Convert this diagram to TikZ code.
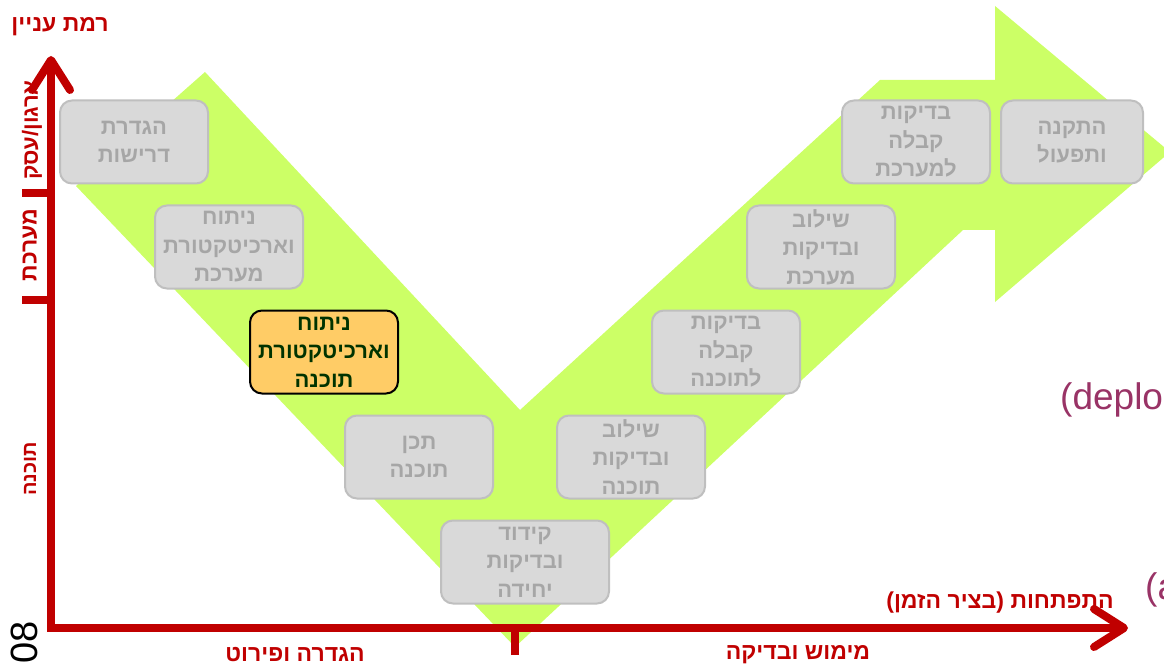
\documentclass[tikz,border=0pt]{standalone}
\usepackage{fontspec}
\setmainfont{Liberation Sans}
\newfontfamily\hebfont[Script=Hebrew]{Liberation Sans}
\TeXXeTstate=1
\usetikzlibrary{arrows.meta,positioning}

\definecolor{vgreen}{HTML}{CCFF66}
\definecolor{boxgray}{HTML}{D9D9D9}
\definecolor{boxline}{HTML}{BFBFBF}
\definecolor{boxtext}{HTML}{A6A6A6}
\definecolor{hilite}{HTML}{FFCC66}
\definecolor{hitext}{HTML}{003300}
\definecolor{axisred}{HTML}{C00000}
\definecolor{cutpurple}{HTML}{993366}

\newcommand{\heb}[1]{{\hebfont\beginR #1\endR}}

\begin{document}
\begin{tikzpicture}[x=1pt,y=-1pt,node distance=105pt and 95pt,on grid,
                    >={Straight Barb[length=30pt,width=38pt,round]},
                    font=\hebfont\bfseries]

  \tikzstyle{phase}=[rectangle,rounded corners=12pt,draw=boxline,line width=2pt,
                     fill=boxgray,text=boxtext,align=center,inner sep=0pt,
                     minimum width=148pt,minimum height=83pt,
                     font=\hebfont\bfseries\fontsize{22}{28.5}\selectfont]
  \tikzstyle{current}=[phase,fill=hilite,draw=black,text=hitext]
  \tikzstyle{axis}=[draw=axisred,line width=8pt]
  \tikzstyle{axislabel}=[text=axisred,inner sep=0pt,
                         font=\hebfont\bfseries\fontsize{23}{26}\selectfont]

  \useasboundingbox (0,0) rectangle (1164,668);

  \fill[vgreen] (205,72) -- (520,410) -- (880,80) -- (995,80) -- (995,6)
    -- (1170,152) -- (995,302) -- (995,230) -- (963,230) -- (515,647)
    -- (76,186) -- cycle;

  \node[phase]   (req) at (134,142)                      {\heb{הגדרת}\\\heb{דרישות}};
  \node[phase]   (sysarch) [below right=of req]          {\heb{ניתוח}\\\heb{וארכיטקטורת}\\\heb{מערכת}};
  \node[current] (swarch) [below right=of sysarch]       {\heb{ניתוח}\\\heb{וארכיטקטורת}\\\heb{תוכנה}};
  \node[phase]   (swdesign) [below right=of swarch]      {\heb{תכן}\\\heb{תוכנה}};
  \node[phase,minimum width=168pt] (unit) [below right=105pt and 106pt of swdesign]
                                                         {\heb{קידוד}\\\heb{ובדיקות}\\\heb{יחידה}};
  \node[phase]   (swint) [above right=105pt and 106pt of unit]
                                                         {\heb{שילוב}\\\heb{ובדיקות}\\\heb{תוכנה}};
  \node[phase]   (swacc) [above right=of swint]          {\heb{בדיקות}\\\heb{קבלה}\\\heb{לתוכנה}};
  \node[phase]   (sysint) [above right=of swacc]         {\heb{שילוב}\\\heb{ובדיקות}\\\heb{מערכת}};
  \node[phase]   (sysacc) [above right=of sysint]        {\heb{בדיקות}\\\heb{קבלה}\\\heb{למערכת}};
  \node[phase,minimum width=142pt] (install) [right=156pt of sysacc]
                                                         {\heb{התקנה}\\\heb{ותפעול}};

  \coordinate (origin) at (51,628);
  \coordinate (ytop)   at (51,56);
  \coordinate (xend)   at (1128,628);
  \coordinate (tsys)   at (22,193);
  \coordinate (tsw)    at (22,300);
  \coordinate (tmid)   at (515,655);

  \draw[axis,<->] (ytop) -- (origin) -- (xend);
  \draw[axis] (tsys) -- (tsys -| origin);
  \draw[axis] (tsw) -- (tsw -| origin);
  \draw[axis] (tmid) -- (tmid |- origin);

  \node[axislabel] (interest) at (60,27)      {\heb{רמת עניין}};
  \node[axislabel] (timeline) at (1000,603)   {\heb{התפתחות (בציר הזמן)}};
  \node[axislabel] (define)   at (295,655)    {\heb{הגדרה ופירוט}};
  \node[axislabel] (realize)  at (798,655)    {\heb{מימוש ובדיקה}};
  \node[axislabel,rotate=90,font=\hebfont\bfseries\fontsize{22}{24}\selectfont]
                   (orglevel) at (32,130)     {\heb{ארגון/עסק}};
  \node[axislabel,rotate=90,font=\hebfont\bfseries\fontsize{23}{24}\selectfont]
                   (syslevel) at (30,245)     {\heb{מערכת}};
  \node[axislabel,rotate=90,font=\hebfont\bfseries\fontsize{20}{22}\selectfont]
                   (swlevel)  at (30,469)     {\heb{תוכנה}};

  \node[text=cutpurple,anchor=west,inner sep=0pt,font=\normalfont\fontsize{37}{40}\selectfont]
                   (deplo) at (1060,400)      {(deplo};
  \node[text=cutpurple,anchor=west,inner sep=0pt,font=\normalfont\fontsize{37}{40}\selectfont]
                   (acut)  at (1145,590)      {(a};
  \node[rotate=90,anchor=east,inner sep=0pt,font=\normalfont\fontsize{38}{40}\selectfont]
                   (year)  at (24,621)        {08};
\end{tikzpicture}
\end{document}
